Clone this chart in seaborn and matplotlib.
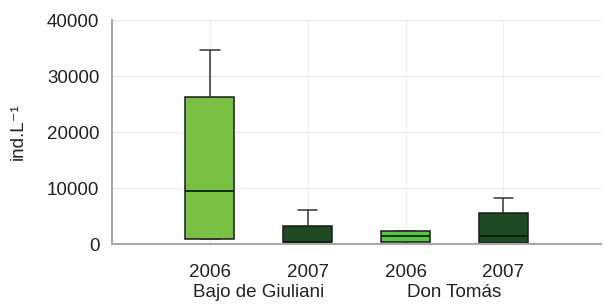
import numpy as np
import pandas as pd
import matplotlib
matplotlib.use("Agg")
import matplotlib.pyplot as plt
import seaborn as sns

# Data: min, q1, median, q3, max per box
groups = ["BG2006", "BG2007", "DT2006", "DT2007"]
years = ["2006", "2007", "2006", "2007"]
sites = ["Bajo de Giuliani", "Don Tomás"]
bg2006 = [900, 900, 9500, 26300, 34600]
bg2007 = [0, 400, 450, 3300, 6100]
dt2006 = [100, 350, 1500, 2300, 2300]
dt2007 = [0, 250, 1500, 5500, 8300]
colors = ["#78c145", "#1e4a24", "#55c843", "#1e4a24"]
yticks = [0, 10000, 20000, 30000, 40000]

values = [bg2006, bg2007, dt2006, dt2007]
df = pd.DataFrame({
    "group": np.repeat(groups, [len(v) for v in values]),
    "val": np.concatenate(values),
})

sns.set_style("white")
plt.rcParams["font.family"] = ["Liberation Sans", "DejaVu Sans"]

fig = plt.figure(figsize=(6.04, 3.04), dpi=100)
ax = fig.add_axes([0.1854, 0.197, 0.81, 0.737])

sns.boxplot(data=df, x="group", y="val", hue="group", order=groups,
            hue_order=groups, palette=dict(zip(groups, colors)),
            saturation=1,
            whis=(0, 100), width=0.5, linewidth=1.1, linecolor="#1a1a1a",
            dodge=False, legend=False, ax=ax, showfliers=False,
            whiskerprops=dict(color="#333333"),
            capprops=dict(color="#333333"),
            medianprops=dict(color="#0a200c", linewidth=1.3),
            capwidths=0.2, zorder=3)

ax.set_xlim(-1, len(groups))
ax.set_ylim(0, 40000)
ax.set_yticks(yticks)
ax.set_yticklabels([str(t) for t in yticks], fontsize=13.5, color="#222222")
ax.set_xticks(range(len(groups)))
ax.set_xticklabels(years, fontsize=13.5, color="#222222")
ax.tick_params(axis="y", length=3, color="#aaaaaa", pad=6)
ax.tick_params(axis="x", length=0, pad=14)
ax.set_xlabel("")
ax.set_ylabel("ind.L\u207b\u00b9", fontsize=13.5, color="#222222", va="center")
ax.yaxis.set_label_coords(-0.192, 0.5)

for t in yticks[1:]:
    ax.axhline(t, color="#ececec", lw=1, zorder=0)
for p in range(len(groups) + 1):
    ax.axvline(p, color="#eeeeee", lw=1, zorder=0)

for s in ["top", "right"]:
    ax.spines[s].set_visible(False)
for s in ["left", "bottom"]:
    ax.spines[s].set_color("#a8a8a8")
    ax.spines[s].set_linewidth(1.5)
    ax.spines[s].set_zorder(4)

for i, site in enumerate(sites):
    ax.text(2 * i + 0.5, -0.18, site, transform=ax.get_xaxis_transform(),
            ha="center", va="top", fontsize=13.5, color="#222222")

fig.savefig("out.png", dpi=100)
